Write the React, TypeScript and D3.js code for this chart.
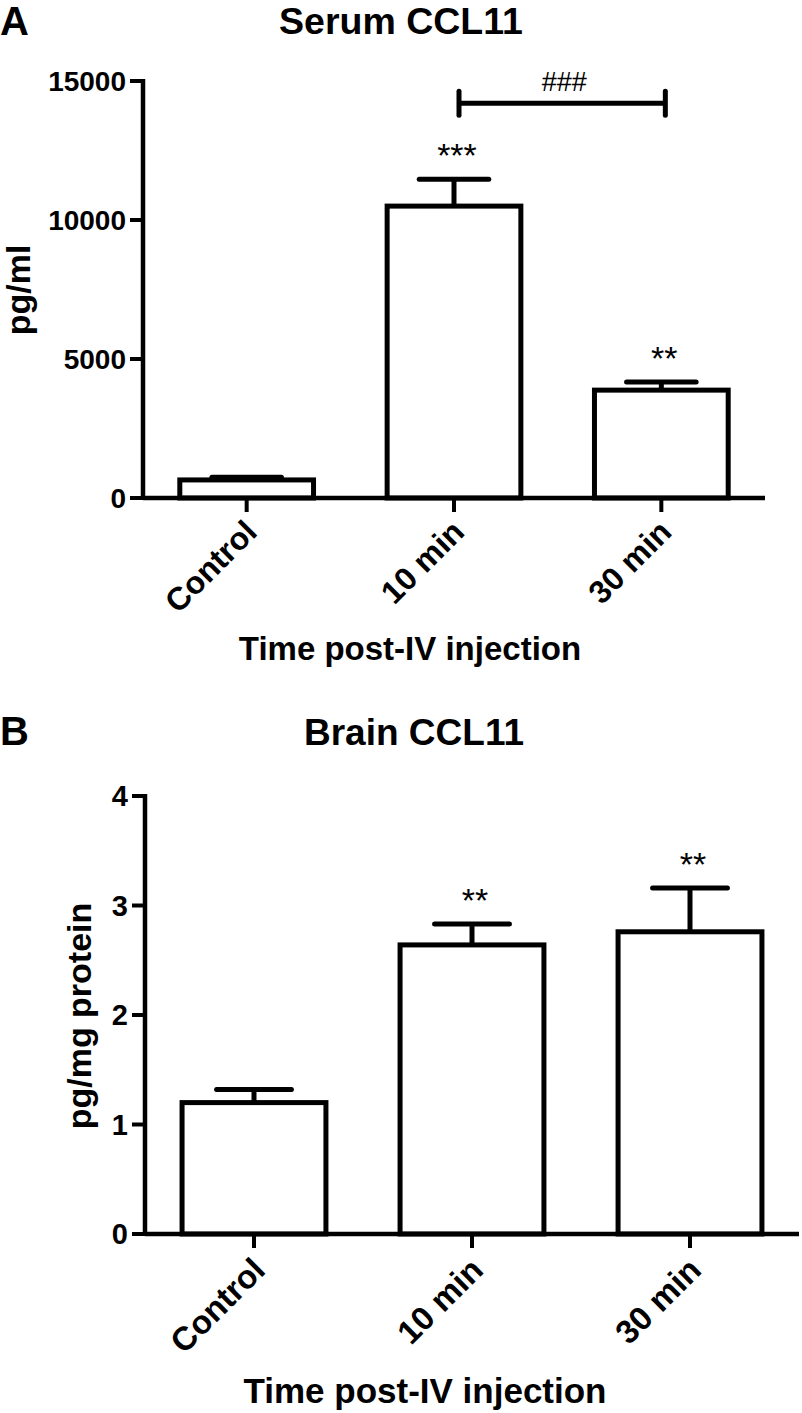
import React from "react";
import * as d3 from "d3";

const categories = ["Control", "10 min", "30 min"];

const serumMean = [650, 10500, 3880];
const serumErr = [100, 970, 290];
const serumStars = ["", "***", "**"];
const serumTicks = [0, 5000, 10000, 15000];

const brainMean = [1.2, 2.64, 2.76];
const brainErr = [0.12, 0.19, 0.4];
const brainStars = ["", "**", "**"];
const brainTicks = [0, 1, 2, 3, 4];

const FONT = "'Liberation Sans', Arial, Helvetica, sans-serif";

type PanelProps = {
  letter: string;
  title: string;
  titleSize: number;
  yLabel: string;
  means: number[];
  errs: number[];
  stars: string[];
  ticks: number[];
  yMax: number;
  axisX: number;
  xRight: number;
  y0: number;
  yTop: number;
  barFrac: number;
  titleX: number;
  titleY: number;
  letterY: number;
  yLabelX: number;
  yLabelY: number;
  xTitleX: number;
  xTitleY: number;
  xTitleSize: number;
  tickSize: number;
  catSize: number;
  catDx: number;
  catDy: number;
  children?: (x: d3.ScaleBand<string>, y: d3.ScaleLinear<number, number>) => React.ReactNode;
};

function Panel(p: PanelProps) {
  const x = d3.scaleBand<string>().domain(categories).range([p.axisX, p.xRight]).padding(0);
  const y = d3.scaleLinear().domain([0, p.yMax]).range([p.y0, p.yTop]);
  const bw = x.bandwidth() * p.barFrac;
  const capHalf = bw * 0.26;
  const sw = 5;
  return (
    <g>
      <text x={0} y={p.letterY} fontFamily={FONT} fontWeight="bold" fontSize={40}>{p.letter}</text>
      <text x={p.titleX} y={p.titleY} textAnchor="middle" fontFamily={FONT} fontWeight="bold" fontSize={p.titleSize}>{p.title}</text>
      <text transform={`translate(${p.yLabelX},${p.yLabelY}) rotate(-90)`} textAnchor="middle" fontFamily={FONT} fontWeight="bold" fontSize={34}>{p.yLabel}</text>
      {categories.map((c, i) => {
        const cx = (x(c) as number) + x.bandwidth() / 2;
        const top = y(p.means[i]);
        const capY = y(p.means[i] + p.errs[i]);
        return (
          <g key={c}>
            <line x1={cx} x2={cx} y1={top} y2={capY} stroke="#000" strokeWidth={sw} />
            <line x1={cx - capHalf} x2={cx + capHalf} y1={capY} y2={capY} stroke="#000" strokeWidth={sw} strokeLinecap="round" />
            <rect x={cx - bw / 2} y={top} width={bw} height={p.y0 - top} fill="#fff" stroke="#000" strokeWidth={sw} />
            {p.stars[i] && (
              <text x={cx + 3} y={capY - 12} textAnchor="middle" fontFamily={FONT} fontSize={34}>{p.stars[i]}</text>
            )}
          </g>
        );
      })}
      <line x1={p.axisX} x2={p.axisX} y1={p.y0 + 2} y2={p.yTop - 2} stroke="#000" strokeWidth={4.5} />
      {p.ticks.map((t) => (
        <g key={t}>
          <line x1={p.axisX - 13} x2={p.axisX} y1={y(t)} y2={y(t)} stroke="#000" strokeWidth={4} />
          <text x={p.axisX - 17} y={y(t) + 10} textAnchor="end" fontFamily={FONT} fontWeight="bold" fontSize={p.tickSize}>{t}</text>
        </g>
      ))}
      <line x1={p.axisX} x2={p.xRight} y1={p.y0} y2={p.y0} stroke="#000" strokeWidth={4.5} />
      {categories.map((c) => {
        const cx = (x(c) as number) + x.bandwidth() / 2;
        return (
          <g key={c}>
            <line x1={cx} x2={cx} y1={p.y0} y2={p.y0 + 14} stroke="#000" strokeWidth={4} />
            <text transform={`translate(${cx + p.catDx},${p.y0 + p.catDy}) rotate(-45)`} textAnchor="end" fontFamily={FONT} fontWeight="bold" fontSize={p.catSize}>{c}</text>
          </g>
        );
      })}
      <text x={p.xTitleX} y={p.xTitleY} textAnchor="middle" fontFamily={FONT} fontWeight="bold" fontSize={p.xTitleSize}>Time post-IV injection</text>
      {p.children && p.children(x, y)}
    </g>
  );
}

export default function App() {
  return (
    <svg width={802} height={1413} style={{ position: "absolute", left: 0, top: 0, display: "block", background: "#fff" }}>
      <rect x={0} y={0} width={802} height={1413} fill="#fff" />
      <Panel
        letter="A" title="Serum CCL11" titleSize={37.5} yLabel="pg/ml"
        means={serumMean} errs={serumErr} stars={serumStars} ticks={serumTicks} yMax={15000}
        axisX={143} xRight={765} y0={498} yTop={81} barFrac={0.645}
        titleX={401} titleY={34} letterY={35} yLabelX={30} yLabelY={290}
        xTitleX={410} xTitleY={660} xTitleSize={33} tickSize={28}
        catSize={32} catDx={12} catDy={36}
      >
        {(x, y) => {
          const c1 = (x("10 min") as number) + x.bandwidth() / 2 + 5;
          const c2 = (x("30 min") as number) + x.bandwidth() / 2 + 4;
          const by = y(14200);
          return (
            <g>
              <line x1={c1} x2={c2} y1={by} y2={by} stroke="#000" strokeWidth={5} />
              <line x1={c1} x2={c1} y1={by - 12} y2={by + 12} stroke="#000" strokeWidth={5} strokeLinecap="round" />
              <line x1={c2} x2={c2} y1={by - 12} y2={by + 12} stroke="#000" strokeWidth={5} strokeLinecap="round" />
              <text x={(c1 + c2) / 2 + 2} y={by - 12} textAnchor="middle" fontFamily={FONT} fontSize={27}>###</text>
            </g>
          );
        }}
      </Panel>
      <Panel
        letter="B" title="Brain CCL11" titleSize={37} yLabel="pg/mg protein"
        means={brainMean} errs={brainErr} stars={brainStars} ticks={brainTicks} yMax={4}
        axisX={145} xRight={799} y0={1234} yTop={796} barFrac={0.66}
        titleX={414} titleY={745} letterY={745} yLabelX={91} yLabelY={1016}
        xTitleX={425} xTitleY={1403} xTitleSize={35} tickSize={29}
        catSize={33} catDx={13} catDy={38}
      />
    </svg>
  );
}
